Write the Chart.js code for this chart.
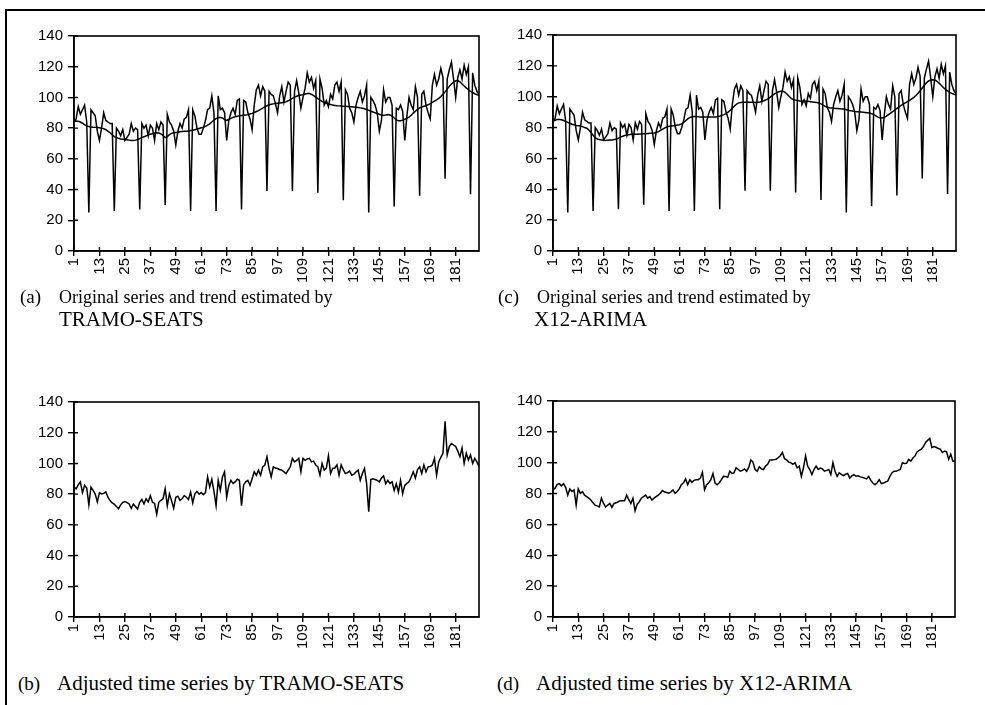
<!DOCTYPE html>
<html>
<head>
<meta charset="utf-8">
<script src="https://cdn.jsdelivr.net/npm/chart.js@4.4.1/dist/chart.umd.min.js"></script>
<style>
  body { margin: 0; background: #fff; width: 985px; height: 705px; position: relative; overflow: hidden; }
  .frame { position: absolute; left: 5px; top: 9px; width: 990px; height: 700px; border-top: 2px solid #000; border-left: 2px solid #000; }
  .box { position: absolute; width: 470px; }
  .cap { position: absolute; font-family: "Liberation Serif", "Times New Roman", serif; font-size: 21px; color: #000; line-height: 22px; white-space: nowrap; }
  .cap .lbl { display: inline-block; width: 39px; font-size: 19px; }
  .cap .first { font-size: 18px; }
  .cap .ind { padding-left: 39px; }
</style>
</head>
<body>
<div class="frame"></div>
<div class="box" style="left:20px;top:22px;height:274px"><canvas id="chartA"></canvas></div>
<div class="box" style="left:499px;top:21px;height:275px"><canvas id="chartC"></canvas></div>
<div class="box" style="left:20px;top:388px;height:274px"><canvas id="chartB"></canvas></div>
<div class="box" style="left:499px;top:387px;height:275px"><canvas id="chartD"></canvas></div>

<div class="cap" style="left:20px;top:285px"><span class="lbl">(a)</span><span class="first">Original series and trend estimated by</span><div class="ind">TRAMO-SEATS</div></div>
<div class="cap" style="left:498px;top:285px"><span class="lbl">(c)</span><span class="first">Original series and trend estimated by</span><div class="ind" style="padding-left:36px">X12-ARIMA</div></div>
<div class="cap" style="left:18px;top:672px"><span class="lbl">(b)</span>Adjusted time series by TRAMO-SEATS</div>
<div class="cap" style="left:497px;top:672px"><span class="lbl">(d)</span>Adjusted time series by X12-ARIMA</div>

<script>
// monthly observations 1..192
var months = [];
for (var m = 1; m <= 192; m++) months.push(String(m));

var original = [
  84, 86, 94, 89, 92, 95, 84, 25, 92, 90, 88, 78,
  72, 80, 90, 85, 84, 83, 83, 26, 80, 78, 75, 79,
  72, 74, 76, 83, 78, 80, 79, 27, 83, 80, 82, 75,
  82, 80, 72, 83, 79, 84, 82, 30, 89, 84, 82, 78,
  69, 78, 83, 80, 86, 87, 92, 26, 92, 88, 80, 76,
  76, 80, 85, 92, 93, 101, 90, 26, 101, 92, 93, 90,
  72, 85, 90, 93, 89, 98, 99, 27, 98, 97, 90, 86,
  79, 95, 105, 108, 101, 107, 104, 39, 104, 102, 101, 96,
  90, 101, 107, 97, 104, 110, 108, 39, 104, 111, 103, 93,
  100, 106, 116, 110, 113, 106, 111, 38, 112, 106, 95, 98,
  94, 102, 99, 108, 110, 104, 110, 33, 105, 102, 93, 90,
  84, 95, 100, 104, 97, 101, 108, 25, 100, 98, 95, 90,
  78, 85, 105, 97, 100, 100, 95, 29, 93, 92, 95, 91,
  72, 88, 100, 95, 92, 107, 100, 36, 102, 104, 95, 90,
  86, 108, 115, 108, 112, 119, 113, 47, 112, 118, 123, 112,
  100, 113, 118, 112, 121, 115, 120, 37, 116, 108, 104, 102
];

var trendTramo = [
  84.5, 84.6, 84.5, 84.0, 83.2, 82.2, 81.5, 81.0, 80.8, 80.6, 80.5, 80.4,
  80.2, 80.0, 79.6, 79.0, 78.0, 77.0, 75.8, 74.5, 73.8, 73.4, 73.0, 72.8,
  72.6, 72.4, 72.2, 72.0, 72.0, 72.2, 72.6, 73.2, 73.8, 74.4, 75.0, 75.6,
  76.0, 76.4, 76.8, 77.0, 76.8, 76.2, 75.2, 73.8, 74.5, 75.8, 76.6, 77.0,
  77.2, 77.4, 77.6, 77.8, 78.0, 78.0, 78.2, 78.4, 78.6, 79.0, 79.4, 79.8,
  80.2, 80.6, 81.2, 82.0, 82.8, 84.0, 85.2, 86.2, 86.8, 87.0, 86.6, 85.6,
  85.0, 85.6, 86.4, 87.0, 87.4, 87.8, 88.0, 88.2, 88.4, 88.6, 88.8, 89.2,
  89.6, 90.2, 90.8, 91.4, 92.2, 93.0, 93.8, 94.6, 95.2, 95.6, 95.8, 96.0,
  96.2, 96.4, 96.6, 96.8, 97.2, 97.8, 98.6, 99.4, 100.2, 100.8, 101.2, 101.6,
  101.8, 102.2, 102.5, 102.5, 102.0, 101.2, 100.2, 99.2, 98.2, 97.4, 96.8, 96.2,
  95.8, 95.4, 95.0, 94.8, 94.6, 94.5, 94.4, 94.3, 94.2, 94.1, 94.0, 93.9,
  93.8, 93.6, 93.4, 93.2, 93.0, 92.6, 92.2, 91.6, 91.0, 90.5, 90.0, 89.5,
  89.0, 88.6, 88.3, 88.5, 88.8, 88.6, 87.8, 86.6, 85.4, 84.8, 84.8, 85.2,
  85.8, 86.4, 87.2, 88.4, 89.8, 91.0, 92.2, 93.2, 93.8, 94.2, 94.6, 95.2,
  96.0, 96.8, 97.6, 98.4, 99.4, 100.6, 102.0, 103.6, 105.4, 107.2, 108.8, 110.0,
  110.8, 111.0, 110.2, 108.8, 107.4, 106.2, 105.0, 104.0, 103.2, 102.4, 101.8, 101.2
];

var trendX12 = [
  84.0, 84.8, 85.2, 85.2, 85.0, 84.6, 84.0, 83.4, 82.8, 82.2, 81.8, 81.4,
  81.2, 81.0, 80.6, 80.0, 79.6, 78.4, 76.8, 75.0, 73.4, 72.6, 72.2, 72.0,
  71.8, 71.7, 71.8, 71.9, 72.0, 72.2, 72.6, 73.2, 73.8, 74.4, 74.8, 75.2,
  75.4, 75.6, 75.6, 75.6, 75.6, 75.8, 75.8, 76.0, 76.0, 76.2, 76.3, 76.4,
  76.5, 76.8, 77.4, 78.2, 79.0, 79.8, 80.4, 80.8, 81.0, 81.2, 81.4, 81.6,
  81.8, 82.4, 83.4, 84.6, 85.8, 86.6, 87.0, 87.2, 87.2, 87.0, 86.9, 86.9,
  86.9, 86.8, 86.8, 86.8, 86.8, 86.8, 87.0, 87.4, 88.0, 88.4, 89.0, 90.0,
  91.2, 92.6, 94.0, 95.2, 96.0, 96.3, 96.4, 96.4, 96.4, 96.4, 96.4, 96.4,
  96.3, 96.4, 96.6, 97.0, 97.4, 98.0, 98.8, 99.8, 100.8, 101.8, 102.6, 103.2,
  103.6, 103.5, 102.8, 101.6, 100.2, 98.8, 98.2, 97.8, 97.5, 97.2, 97.0, 97.0,
  97.0, 97.0, 96.8, 96.6, 96.4, 96.2, 96.0, 95.4, 94.6, 93.8, 93.2, 92.8,
  92.7, 92.6, 92.4, 92.3, 92.2, 92.1, 92.0, 91.6, 91.2, 90.9, 90.7, 90.5,
  90.3, 90.2, 90.1, 90.0, 89.8, 89.6, 89.4, 89.0, 88.4, 87.6, 86.8, 86.3,
  86.2, 86.6, 87.4, 88.4, 89.4, 90.4, 91.4, 92.4, 93.4, 94.4, 95.2, 96.0,
  96.8, 97.6, 98.6, 99.6, 100.8, 102.2, 103.8, 105.6, 107.4, 109.0, 110.2, 110.8,
  111.0, 110.8, 110.0, 108.8, 107.4, 106.0, 104.8, 103.8, 102.8, 102.2, 101.6, 101.3
];

var adjustedTramo = [
  84.6, 83.5, 86, 88, 81, 85.7, 84, 73, 84.6, 82.4, 80, 75,
  81, 80.2, 80.5, 81.5, 78, 75.8, 74.3, 73.5, 72, 70.5, 73, 74.7,
  75.2, 74.5, 73.6, 70.8, 73.5, 72, 70.3, 74.7, 76.5, 73.6, 77, 75,
  79, 74.7, 74, 67, 74.7, 76, 77, 83.5, 72.5, 80.2, 75.8, 70.8,
  78, 78.7, 76, 77, 79, 78, 76.5, 81.3, 74.3, 80.2, 81.8, 80,
  81, 79.6, 81, 91.2, 84.6, 89.7, 82, 72.5, 89, 82.4, 91.2, 94.5,
  78, 85.7, 89, 87, 88, 89.7, 89, 72.5, 86, 88, 89, 85.7,
  90, 94.5, 92.3, 95.6, 92.3, 97.8, 99, 104.4, 96.7, 91.2, 97.8, 97,
  96.7, 96, 95.6, 94.5, 93.4, 95.6, 97.8, 103.3, 101, 102, 103.3, 94.5,
  103.3, 102, 102.9, 103.3, 101, 101.5, 99, 97.8, 92.3, 100, 95.6, 97,
  105, 93.4, 96.7, 97, 99, 92.3, 99, 96, 93.4, 94, 95, 92.3,
  93, 94.5, 95.6, 89, 93.4, 96.7, 86.8, 68.6, 89.5, 90, 89.5, 89,
  88, 90.5, 91.9, 86.8, 89, 87, 88, 82.4, 86.8, 81.3, 89, 80.2,
  85.7, 87, 88, 91.2, 94.5, 90.5, 96, 97.8, 93.4, 99, 94.5, 97.8,
  98, 99, 103.3, 92.3, 101, 104, 106.6, 127.5, 105.5, 111, 113, 112,
  111, 108, 104.4, 110, 100, 106.6, 102.2, 105.5, 100, 103.3, 101, 98
];

var adjustedX12 = [
  82.4, 83.5, 86, 86.4, 85, 86.4, 84, 79, 83, 81.3, 82.4, 72.5,
  83, 80.2, 81.3, 79, 78, 77, 75.8, 74, 72.5, 72, 71.4, 77,
  73.6, 71.4, 72.5, 73.6, 71, 73.6, 74, 74.7, 75.4, 75.4, 75.4, 79,
  76, 73.6, 77, 68.8, 73, 74.7, 77, 78, 79, 77, 78, 75.8,
  77, 78, 79, 80.2, 82, 81, 80.7, 80.2, 81, 82.4, 80.2, 81.3,
  83, 85.7, 87, 89.5, 85.7, 89, 87.3, 88.6, 89, 89, 90, 93.8,
  82.4, 85.7, 87, 89, 93, 86.8, 85.7, 87, 89, 91.2, 91, 90.5,
  94.5, 93, 93.4, 96.7, 95.6, 94.5, 95, 96, 94.5, 97, 101.8, 100.4,
  95.6, 94.5, 97.4, 96, 95.6, 97.8, 99, 101.8, 101.8, 102, 102.2, 103.3,
  104.5, 106.6, 102.6, 101.8, 100.4, 100, 98.9, 100, 96.7, 97.8, 91.2, 96.7,
  104.4, 97.8, 95.6, 92.3, 95.6, 97.8, 95.6, 96.5, 96, 94.5, 95, 95.6,
  92.3, 100, 94.5, 91.2, 93.4, 92.5, 91.6, 92.5, 93, 90, 91.5, 92.3,
  91.2, 91.5, 90.8, 90.5, 90, 89.5, 91.2, 88.5, 86.8, 85.7, 87, 89,
  86.4, 86.8, 87.5, 88, 91, 93.4, 94.5, 94.5, 95, 95.6, 100, 99.5,
  99.6, 102.2, 101, 103, 104.4, 107, 108, 108.8, 110.5, 113.2, 114.5, 115.8,
  109.9, 110.5, 110, 109.2, 108.8, 106.6, 107.5, 107, 102.2, 105.5, 101, 101
];

var yTicks = [0, 20, 40, 60, 80, 100, 120, 140];

// plot-area frame and short inner tick marks
var framePlugin = {
  id: 'framePlugin',
  afterDraw: function(chart) {
    var ctx = chart.ctx, a = chart.chartArea;
    var xs = chart.scales.x, ys = chart.scales.y;
    ctx.save();
    ctx.strokeStyle = '#000';
    ctx.lineWidth = 1.6;
    ctx.strokeRect(a.left, a.top, a.right - a.left, a.bottom - a.top);
    ctx.lineWidth = 1.4;
    ctx.beginPath();
    ys.ticks.forEach(function(t, i) {
      var py = ys.getPixelForTick(i);
      ctx.moveTo(a.left, py);
      ctx.lineTo(a.left + 4, py);
    });
    xs.ticks.forEach(function(t, i) {
      var px = xs.getPixelForTick(i);
      ctx.moveTo(px, a.bottom);
      ctx.lineTo(px, a.bottom - 4);
    });
    ctx.stroke();
    ctx.restore();
  }
};

function makeChart(id, series, padRight) {
  var datasets = series.map(function(s) {
    return {
      data: s,
      borderColor: '#000',
      borderWidth: 1.5,
      pointRadius: 0,
      tension: 0,
      fill: false
    };
  });
  return new Chart(document.getElementById(id).getContext('2d'), {
    type: 'line',
    data: { labels: months, datasets: datasets },
    plugins: [framePlugin],
    options: {
      responsive: true,
      maintainAspectRatio: false,
      animation: false,
      layout: { padding: { top: 10, right: padRight, left: 0, bottom: 0 } },
      plugins: { legend: { display: false }, tooltip: { enabled: false } },
      scales: {
        x: {
          type: 'category',
          offset: false,
          afterBuildTicks: function(scale) {
            scale.ticks = scale.ticks.filter(function(t) { return t.value % 12 === 0; });
          },
          afterFit: function(scale) { scale.height = 45; },
          grid: { drawOnChartArea: false, drawTicks: true, tickLength: 5, color: '#000', lineWidth: 1.4 },
          border: { display: true, color: '#000', width: 1.6 },
          ticks: {
            autoSkip: false,
            minRotation: 90,
            maxRotation: 90,
            padding: 2,
            color: '#000',
            font: { family: 'Liberation Sans, Arial, sans-serif', size: 15 }
          }
        },
        y: {
          min: 0,
          max: 140,
          afterBuildTicks: function(scale) {
            scale.ticks = yTicks.map(function(v) { return { value: v }; });
          },
          afterFit: function(scale) { scale.width = 54; },
          grid: { drawOnChartArea: false, drawTicks: true, tickLength: 6, color: '#000', lineWidth: 1.4 },
          border: { display: true, color: '#000', width: 1.6 },
          ticks: {
            padding: 5,
            color: '#000',
            font: { family: 'Liberation Sans, Arial, sans-serif', size: 15 }
          }
        }
      }
    }
  });
}

makeChart('chartA', [original, trendTramo], 11);
makeChart('chartC', [original, trendX12], 13);
makeChart('chartB', [adjustedTramo], 11);
makeChart('chartD', [adjustedX12], 14);
</script>
</body>
</html>
